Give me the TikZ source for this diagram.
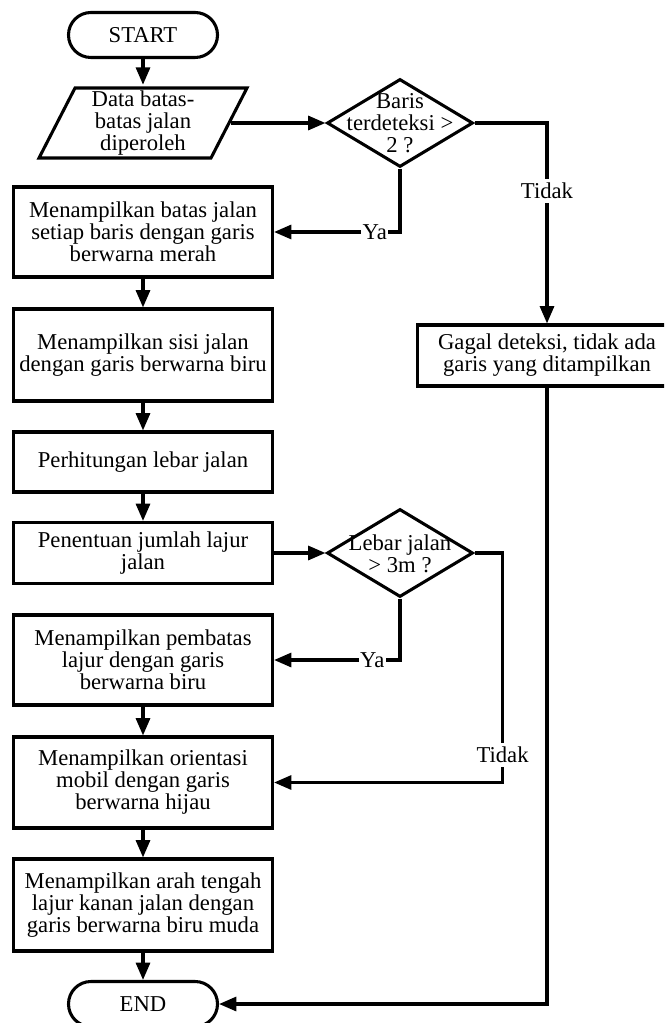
\documentclass[tikz,border=0pt]{standalone}
\usepackage{fontspec}
\setmainfont{Liberation Serif}
\usetikzlibrary{arrows.meta,shapes.geometric}
\begin{document}
\begin{tikzpicture}[x=0.75pt,y=0.75pt,yscale=-1,xscale=1,
        line width=2.3pt,
        every node/.style={font=\fontsize{17}{16.5}\selectfont, align=center},
        term/.style={draw, rounded corners=16.8pt, minimum width=111.75pt, minimum height=33.75pt},
        proc/.style={draw, minimum width=194.25pt, inner sep=2pt},
        dec/.style={draw, diamond, minimum width=109.5pt, minimum height=66pt, inner sep=0pt},
        lbl/.style={fill=white, inner xsep=1pt, inner ysep=3pt},
        arr/.style={-{Triangle[length=13pt,width=10.5pt]}}]
        \useasboundingbox (0,0) rectangle (664,1023);
        % Terminator
        \node[term] (start) at (143,35) {START};
        % Input
        \node[minimum width=129pt, minimum height=52.5pt] (data) at (143,123) {Data batas-\\batas jalan\\diperoleh};
        \draw (75,88) -- (247,88) -- (211,158) -- (39,158) -- cycle ;
        % Decision
        \node[dec] (cek1) at (400,123) {};
        \node (cek1txt) at (400,123) {Baris\\terdeteksi >\\2 ?};
        % Process
        \node[proc, minimum height=67.5pt] (batas) at (143,232) {Menampilkan batas jalan\\setiap baris dengan garis\\berwarna merah};
        \node[proc, minimum height=69pt] (sisi) at (143,355) {Menampilkan sisi jalan\\dengan garis berwarna biru};
        \node[proc, minimum height=45pt] (lebar) at (143,462) {Perhitungan lebar jalan};
        \node[proc, minimum height=45.75pt] (lajur) at (143,553) {Penentuan jumlah lajur\\jalan};
        % Decision
        \node[dec] (cek2) at (400,553) {};
        \node (cek2txt) at (400,554) {Lebar jalan\\> 3m ?};
        % Process
        \node[proc, minimum height=67.5pt] (pembatas) at (143,660) {Menampilkan pembatas\\lajur dengan garis\\berwarna biru};
        \node[proc, minimum height=68.25pt] (orientasi) at (143,782.5) {Menampilkan orientasi\\mobil dengan garis\\berwarna hijau};
        \node[proc, minimum height=69pt] (arah) at (143,905) {Menampilkan arah tengah\\lajur kanan jalan dengan\\garis berwarna biru muda};
        \begin{scope}
            \clip (0,0) rectangle (664,1023);
            \node[proc, minimum height=45.75pt] (gagal) at (547,355.5) {Gagal deteksi, tidak ada\\garis yang ditampilkan};
        \end{scope}
        % Terminator
        \node[term] (stop) at (143,1004) {END};
        % Connectors
        \draw[arr] (start) -- (data);
        \draw[arr] (data) -- (cek1);
        \draw[arr] (cek1.east) -| node[pos=0.67, lbl] {Tidak} (gagal.north);
        \draw[arr] (cek1.south) |- node[pos=0.6, lbl] {Ya} (batas.east);
        \draw[arr] (batas) -- (sisi);
        \draw[arr] (sisi) -- (lebar);
        \draw[arr] (lebar) -- (lajur);
        \draw[arr] (lajur) -- (cek2);
        \draw[arr] (cek2.south) |- node[pos=0.61, lbl] {Ya} (pembatas.east);
        \draw[arr] (cek2.east) -- ++(28,0) |- node[pos=0.44, lbl] {Tidak} (orientasi.east);
        \draw[arr] (pembatas) -- (orientasi);
        \draw[arr] (orientasi) -- (arah);
        \draw[arr] (arah) -- (stop);
        \draw[arr] (gagal.south) |- (stop.east);
    \end{tikzpicture}
\end{document}
